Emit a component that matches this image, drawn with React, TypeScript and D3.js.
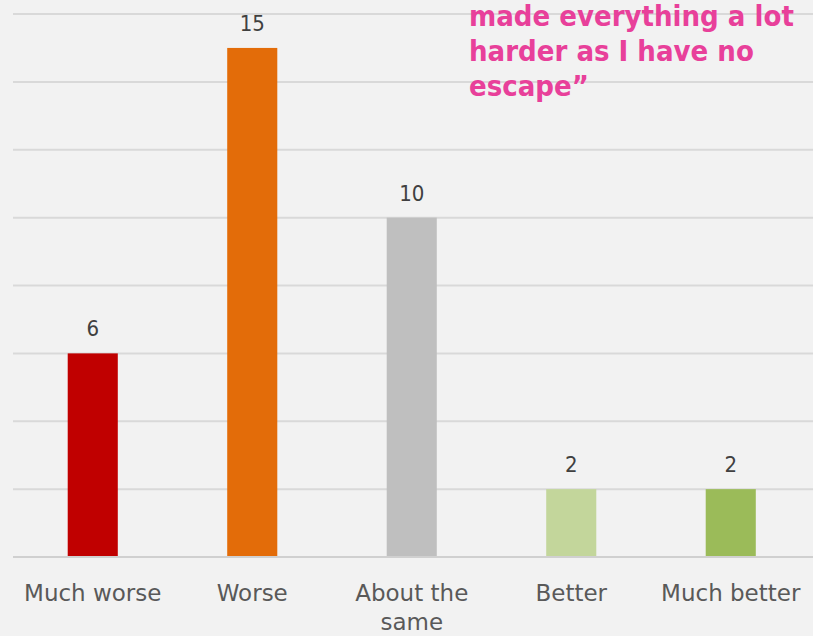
import React from "react";
import * as d3 from "d3";

const categories = ["Much worse", "Worse", "About the same", "Better", "Much better"];
const counts = [6, 15, 10, 2, 2];
const barColors = ["#c00000", "#e36c09", "#bfbfbf", "#c3d69b", "#9bbb59"];
const gridTicks = [0, 2, 4, 6, 8, 10, 12, 14, 16];
const quoteLines = ["made everything a lot", "harder as I have no", "escape\u201d"];

const W = 813;
const H = 636;
const COND = "'DejaVu Sans Condensed', 'DejaVu Sans', sans-serif";
const SANS = "'DejaVu Sans', sans-serif";

export default function App() {
  const x = d3.scaleBand<string>().domain(categories).range([13, 810.5]).paddingInner(0.686).paddingOuter(0.343);
  const y = d3.scaleLinear().domain([0, 16]).range([557, 14]);

  return (
    <svg width={W} height={H} style={{ position: "absolute", left: 0, top: 0, display: "block" }}>
      <rect x={0} y={0} width={W} height={H} fill="#f2f2f2" />
      {gridTicks.map((t) => (
        <line
          key={t}
          x1={13}
          x2={W}
          y1={y(t)}
          y2={y(t)}
          stroke={t === 0 ? "#d0d0d0" : "#d9d9d9"}
          strokeWidth={2}
        />
      ))}
      {categories.map((c, i) => {
        const bx = x(c)!;
        const bw = x.bandwidth();
        return (
          <g key={c}>
            <rect x={bx} y={y(counts[i])} width={bw} height={y(0) - y(counts[i]) - 1} fill={barColors[i]} />
            <text
              x={bx + bw / 2}
              y={y(counts[i]) - 17}
              textAnchor="middle"
              fontFamily={COND}
              fontSize={22}
              fill="#404040"
            >
              {counts[i]}
            </text>
          </g>
        );
      })}
      {categories.map((c) => {
        const cx = x(c)! + x.bandwidth() / 2;
        const lines = c === "About the same" ? ["About the", "same"] : [c];
        return (
          <text key={c} textAnchor="middle" fontFamily={SANS} fontSize={23} fill="#595959">
            {lines.map((l, j) => (
              <tspan key={j} x={cx} y={601 + j * 29}>
                {l}
              </tspan>
            ))}
          </text>
        );
      })}
      <text fontFamily={COND} fontSize={29} fontWeight="bold" fill="#e8409a">
        {quoteLines.map((l, j) => (
          <tspan key={j} x={469} y={26 + j * 35}>
            {l}
          </tspan>
        ))}
      </text>
    </svg>
  );
}
